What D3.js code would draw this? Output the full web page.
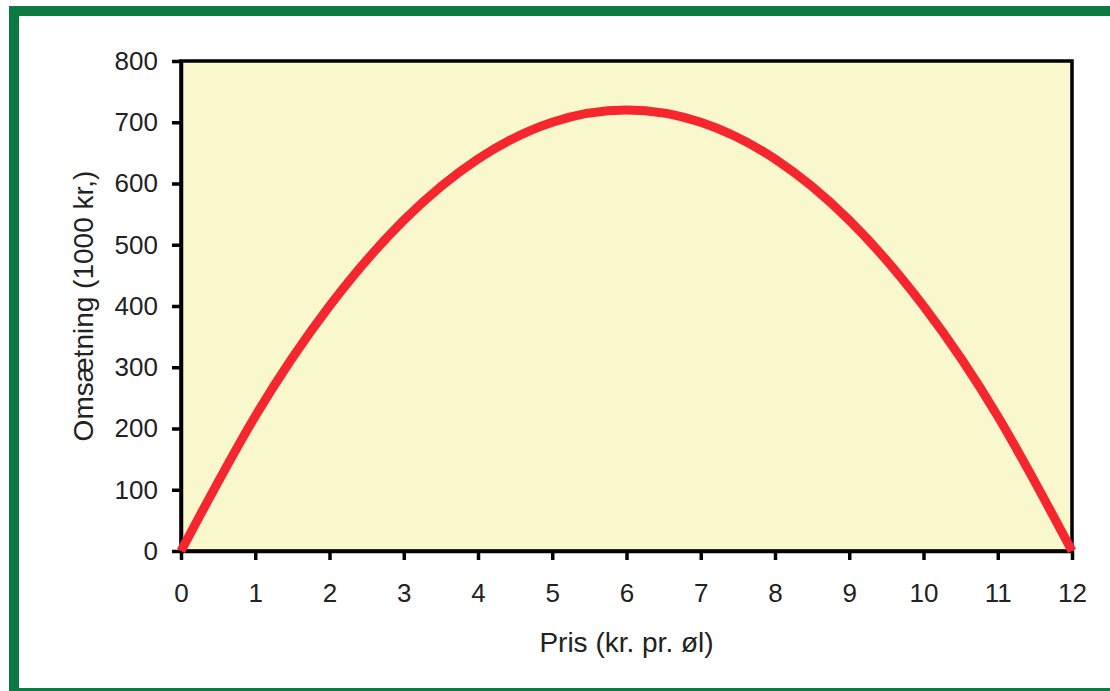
<!DOCTYPE html>
<html>
<head>
<meta charset="utf-8">
<script src="https://cdn.jsdelivr.net/npm/d3@7"></script>
<style>
  body { margin: 0; background: #fff; }
  text { font-family: "Liberation Sans", Arial, sans-serif; fill: #222; }
</style>
</head>
<body>
<svg id="chart" width="1110" height="691"></svg>
<script>
// Pris (kr. pr. øl) and Omsætning (1000 kr.)
const prices = [0, 1, 2, 3, 4, 5, 6, 7, 8, 9, 10, 11, 12];
const revenue = [0, 220, 400, 540, 640, 700, 720, 700, 640, 540, 400, 220, 0];
const xTicks = [0, 1, 2, 3, 4, 5, 6, 7, 8, 9, 10, 11, 12];
const yTicks = [0, 100, 200, 300, 400, 500, 600, 700, 800];

const svg = d3.select('#chart');
const width = +svg.attr('width');
const height = +svg.attr('height');

// green frame round the whole chart
svg.append('rect')
    .attr('x', 14).attr('y', 11)
    .attr('width', width + 20).attr('height', 682)
    .attr('fill', 'none')
    .attr('stroke', '#0b7a42')
    .attr('stroke-width', 10);

const margin = {top: 61, right: 38, bottom: 140, left: 181};
const innerWidth = width - margin.left - margin.right;
const innerHeight = height - margin.top - margin.bottom;

const xScale = d3.scaleLinear().domain([0, 12]).range([0, innerWidth]);
const yScale = d3.scaleLinear().domain([0, 800]).range([innerHeight, 0]);

const g = svg.append('g')
    .attr('transform', `translate(${margin.left},${margin.top})`);

g.append('rect')
    .attr('width', innerWidth)
    .attr('height', innerHeight)
    .attr('fill', '#f9f7cc')
    .attr('stroke', '#000')
    .attr('stroke-width', 3.5);

const xAxis = d3.axisBottom(xScale).tickValues(xTicks).tickSize(9).tickPadding(24).tickSizeOuter(0);
const yAxis = d3.axisLeft(yScale).tickValues(yTicks).tickSize(9).tickPadding(14).tickSizeOuter(0);

const xAxisG = g.append('g')
    .attr('transform', `translate(0,${innerHeight})`)
    .call(xAxis);
const yAxisG = g.append('g').call(yAxis);

[xAxisG, yAxisG].forEach(a => {
    a.select('.domain').attr('stroke', '#000').attr('stroke-width', 3.5);
    a.selectAll('.tick line').attr('stroke', '#000').attr('stroke-width', 3.5);
    a.selectAll('.tick text')
        .attr('fill', '#2a2a2a')
        .style('font-family', '"Liberation Sans", Arial, sans-serif')
        .style('font-size', '26px');
});

const line = d3.line()
    .x((d, i) => xScale(prices[i]))
    .y(d => yScale(d))
    .curve(d3.curveNatural);

g.append('path')
    .datum(revenue)
    .attr('d', line)
    .attr('fill', 'none')
    .attr('stroke', '#f5262e')
    .attr('stroke-width', 9);

g.append('text')
    .attr('x', innerWidth / 2)
    .attr('y', innerHeight + 101)
    .attr('text-anchor', 'middle')
    .style('font-size', '28px')
    .text('Pris (kr. pr. øl)');

g.append('text')
    .attr('transform', `translate(${-88},${innerHeight / 2}) rotate(-90)`)
    .attr('text-anchor', 'middle')
    .style('font-size', '28px')
    .text('Omsætning (1000 kr,)');
</script>
</body>
</html>
